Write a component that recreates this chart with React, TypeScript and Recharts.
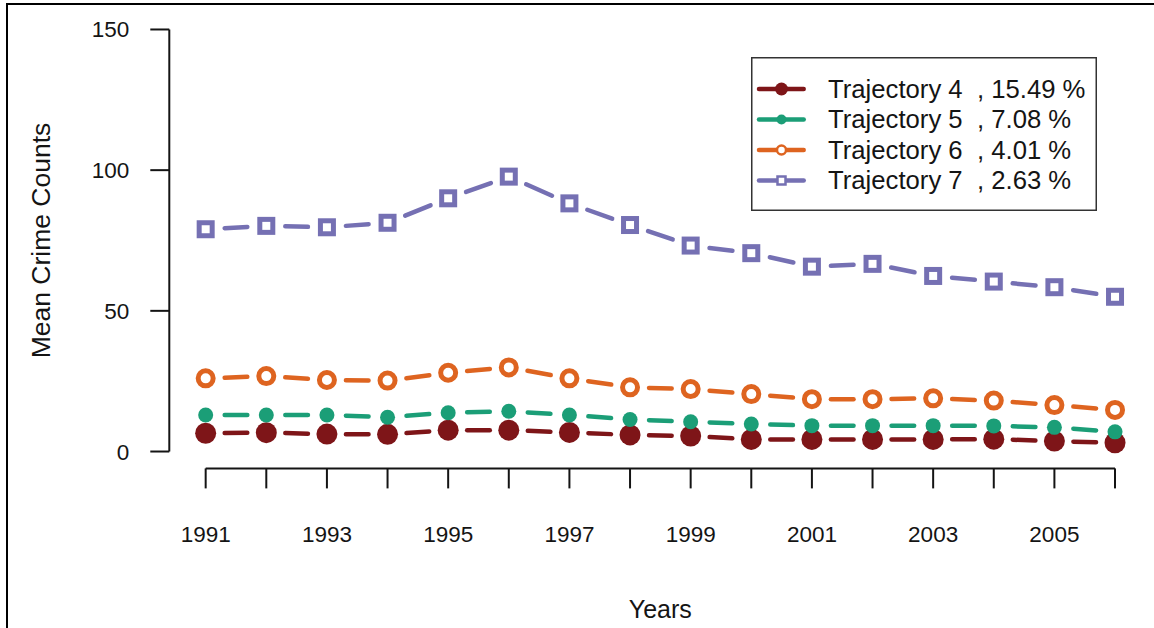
import React from 'react';
import { ScatterChart, Scatter, XAxis, YAxis, ReferenceLine, Legend } from 'recharts';

// ---- data ----
const YEARS = [1991, 1992, 1993, 1994, 1995, 1996, 1997, 1998, 1999, 2000, 2001, 2002, 2003, 2004, 2005, 2006];
const TRAJ4 = [6.5, 6.7, 6.2, 6.1, 7.6, 7.6, 6.8, 5.9, 5.5, 4.3, 4.3, 4.3, 4.3, 4.4, 3.7, 3.1];
const TRAJ5 = [13.0, 13.0, 13.0, 12.2, 13.8, 14.3, 13.0, 11.4, 10.6, 9.8, 9.2, 9.2, 9.2, 9.1, 8.6, 7.0];
const TRAJ6 = [26.0, 26.8, 25.4, 25.2, 28.0, 29.9, 26.0, 22.8, 22.2, 20.4, 18.6, 18.6, 18.9, 18.1, 16.5, 14.8];
const TRAJ7 = [79.0, 80.2, 79.7, 81.3, 90.0, 97.7, 88.2, 80.5, 73.2, 70.5, 65.7, 66.7, 62.4, 60.4, 58.4, 55.0];
const SERIES_LABELS = [
  'Trajectory 4  , 15.49 %',
  'Trajectory 5  , 7.08 %',
  'Trajectory 6  , 4.01 %',
  'Trajectory 7  , 2.63 %',
];
const Y_TICKS = [0, 50, 100, 150];
const X_TITLE = 'Years';
const Y_TITLE = 'Mean Crime Counts';

// R-style 4% axis extension
const X_DOMAIN: [number, number] = [1990.4, 2006.6];
const Y_DOMAIN: [number, number] = [-6, 156];

const FONT = '"Liberation Sans", Arial, Helvetica, sans-serif';
const INK = '#141414';

type Kind = 'bigDot' | 'dot' | 'ring' | 'square';

const SERIES = [
  { key: 't4', values: TRAJ4, label: SERIES_LABELS[0], color: '#7e1518', kind: 'bigDot' as Kind },
  { key: 't5', values: TRAJ5, label: SERIES_LABELS[1], color: '#1b9e77', kind: 'dot' as Kind },
  { key: 't6', values: TRAJ6, label: SERIES_LABELS[2], color: '#de6420', kind: 'ring' as Kind },
  { key: 't7', values: TRAJ7, label: SERIES_LABELS[3], color: '#7570b3', kind: 'square' as Kind },
];

function Marker({ kind, cx, cy, color, small }: { kind: Kind; cx: number; cy: number; color: string; small?: boolean }) {
  if (cx == null || cy == null || isNaN(cx) || isNaN(cy)) return null;
  switch (kind) {
    case 'bigDot':
      return <circle cx={cx} cy={cy} r={small ? 6.5 : 10.5} fill={color} />;
    case 'dot':
      return <circle cx={cx} cy={cy} r={small ? 5 : 7.5} fill={color} />;
    case 'ring':
      return <circle cx={cx} cy={cy} r={small ? 4.5 : 7.5} fill="#fff" stroke={color} strokeWidth={small ? 2.5 : 5} />;
    case 'square': {
      const s = small ? 8 : 13;
      return (
        <rect x={cx - s / 2} y={cy - s / 2} width={s} height={s} fill="#fff" stroke={color} strokeWidth={small ? 2.5 : 5} />
      );
    }
  }
  return null;
}

function DashedSegments({ points, color }: { points: { x: number; y: number }[]; color: string }) {
  if (!points || points.length < 2) return null;
  const gap = 19;
  const segs: React.ReactNode[] = [];
  for (let i = 0; i < points.length - 1; i++) {
    const p1 = points[i];
    const p2 = points[i + 1];
    const dx = p2.x - p1.x;
    const dy = p2.y - p1.y;
    const L = Math.sqrt(dx * dx + dy * dy);
    if (L <= 2 * gap) continue;
    const ux = dx / L;
    const uy = dy / L;
    segs.push(
      <line
        key={i}
        x1={p1.x + ux * gap}
        y1={p1.y + uy * gap}
        x2={p2.x - ux * gap}
        y2={p2.y - uy * gap}
        stroke={color}
        strokeWidth={4.5}
        strokeLinecap="round"
      />
    );
  }
  return <g>{segs}</g>;
}

function LegendBox() {
  const rows = [32, 62.5, 93, 123.5];
  return (
    <svg width={346} height={154} style={{ display: 'block', overflow: 'visible' }}>
      <rect x={0.75} y={0.75} width={344.5} height={152.5} fill="#fff" stroke="#333" strokeWidth={1.5} />
      {SERIES.map((s, i) => (
        <g key={s.key}>
          <line x1={8} y1={rows[i]} x2={52.7} y2={rows[i]} stroke={s.color} strokeWidth={4.5} strokeLinecap="round" />
          <Marker kind={s.kind} cx={30.5} cy={rows[i]} color={s.color} small />
          <text
            x={77}
            y={rows[i] + 8.7}
            fontFamily={FONT}
            fontSize={25.7}
            fill={INK}
            style={{ whiteSpace: 'pre' }}
            xmlSpace="preserve"
          >
            {s.label}
          </text>
        </g>
      ))}
    </svg>
  );
}

export default function App() {
  return (
    <div
      style={{
        position: 'absolute',
        left: 0,
        top: 0,
        width: 1154,
        height: 628,
        background: '#fff',
        overflow: 'hidden',
      }}
    >
      <div
        style={{
          position: 'absolute',
          left: 5.5,
          top: 2.5,
          width: 1200,
          height: 700,
          borderTop: '2.5px solid #000',
          borderLeft: '2.5px solid #000',
          boxSizing: 'border-box',
        }}
      />
      <div style={{ position: 'absolute', left: 0, top: 0 }}>
        <ScatterChart width={1154} height={628} margin={{ top: 12.6, right: 2.6, bottom: 0, left: 0 }}>
          <XAxis
            dataKey="year"
            type="number"
            domain={X_DOMAIN}
            ticks={YEARS}
            interval={0}
            axisLine={false}
            tickLine={{ stroke: INK, strokeWidth: 2 }}
            tickSize={20}
            tickMargin={37.5}
            height={159.6}
            tickFormatter={(v: number) => (v % 2 === 1 ? String(v) : '')}
            tick={{ fontFamily: FONT, fontSize: 22.5, fill: INK }}
            label={{
              content: (props: any) => {
                const vb = props.viewBox || {};
                return (
                  <text x={(vb.x ?? 169) + (vb.width ?? 982) / 2} y={618} textAnchor="middle" fontFamily={FONT} fontSize={25} fill={INK}>
                    {X_TITLE}
                  </text>
                );
              },
            }}
          />
          <YAxis
            dataKey="value"
            type="number"
            domain={Y_DOMAIN}
            ticks={Y_TICKS}
            interval={0}
            axisLine={false}
            tickLine={{ stroke: INK, strokeWidth: 2 }}
            tickSize={19}
            tickMargin={21}
            width={169.3}
            tick={{ fontFamily: FONT, fontSize: 22.5, fill: INK }}
            label={{
              content: (props: any) => {
                const vb = props.viewBox || {};
                const cy = (vb.y ?? 12.6) + (vb.height ?? 456) / 2;
                return (
                  <text
                    x={50}
                    y={cy}
                    transform={`rotate(-90, 50, ${cy})`}
                    textAnchor="middle"
                    fontFamily={FONT}
                    fontSize={26.5}
                    fill={INK}
                  >
                    {Y_TITLE}
                  </text>
                );
              },
            }}
          />
          <ReferenceLine
            ifOverflow="visible"
            segment={[
              { x: YEARS[0], y: Y_DOMAIN[0] },
              { x: YEARS[YEARS.length - 1], y: Y_DOMAIN[0] },
            ]}
            stroke={INK}
            strokeWidth={2}
          />
          <ReferenceLine
            ifOverflow="visible"
            segment={[
              { x: X_DOMAIN[0], y: Y_TICKS[0] },
              { x: X_DOMAIN[0], y: Y_TICKS[Y_TICKS.length - 1] },
            ]}
            stroke={INK}
            strokeWidth={2}
          />
          {SERIES.map((s) => (
            <Scatter
              key={s.key}
              name={s.label}
              data={YEARS.map((year, i) => ({ year, value: s.values[i] }))}
              dataKey="value"
              fill={s.color}
              isAnimationActive={false}
              line={(props: any) => <DashedSegments points={props.points} color={s.color} />}
              shape={(props: any) => <Marker kind={s.kind} cx={props.cx} cy={props.cy} color={s.color} />}
            />
          ))}
          <Legend
            layout="vertical"
            align="center"
            verticalAlign="middle"
            wrapperStyle={{ position: 'absolute', left: 751, top: 57, width: 346, height: 154 }}
            content={() => <LegendBox />}
          />
        </ScatterChart>
      </div>
    </div>
  );
}
